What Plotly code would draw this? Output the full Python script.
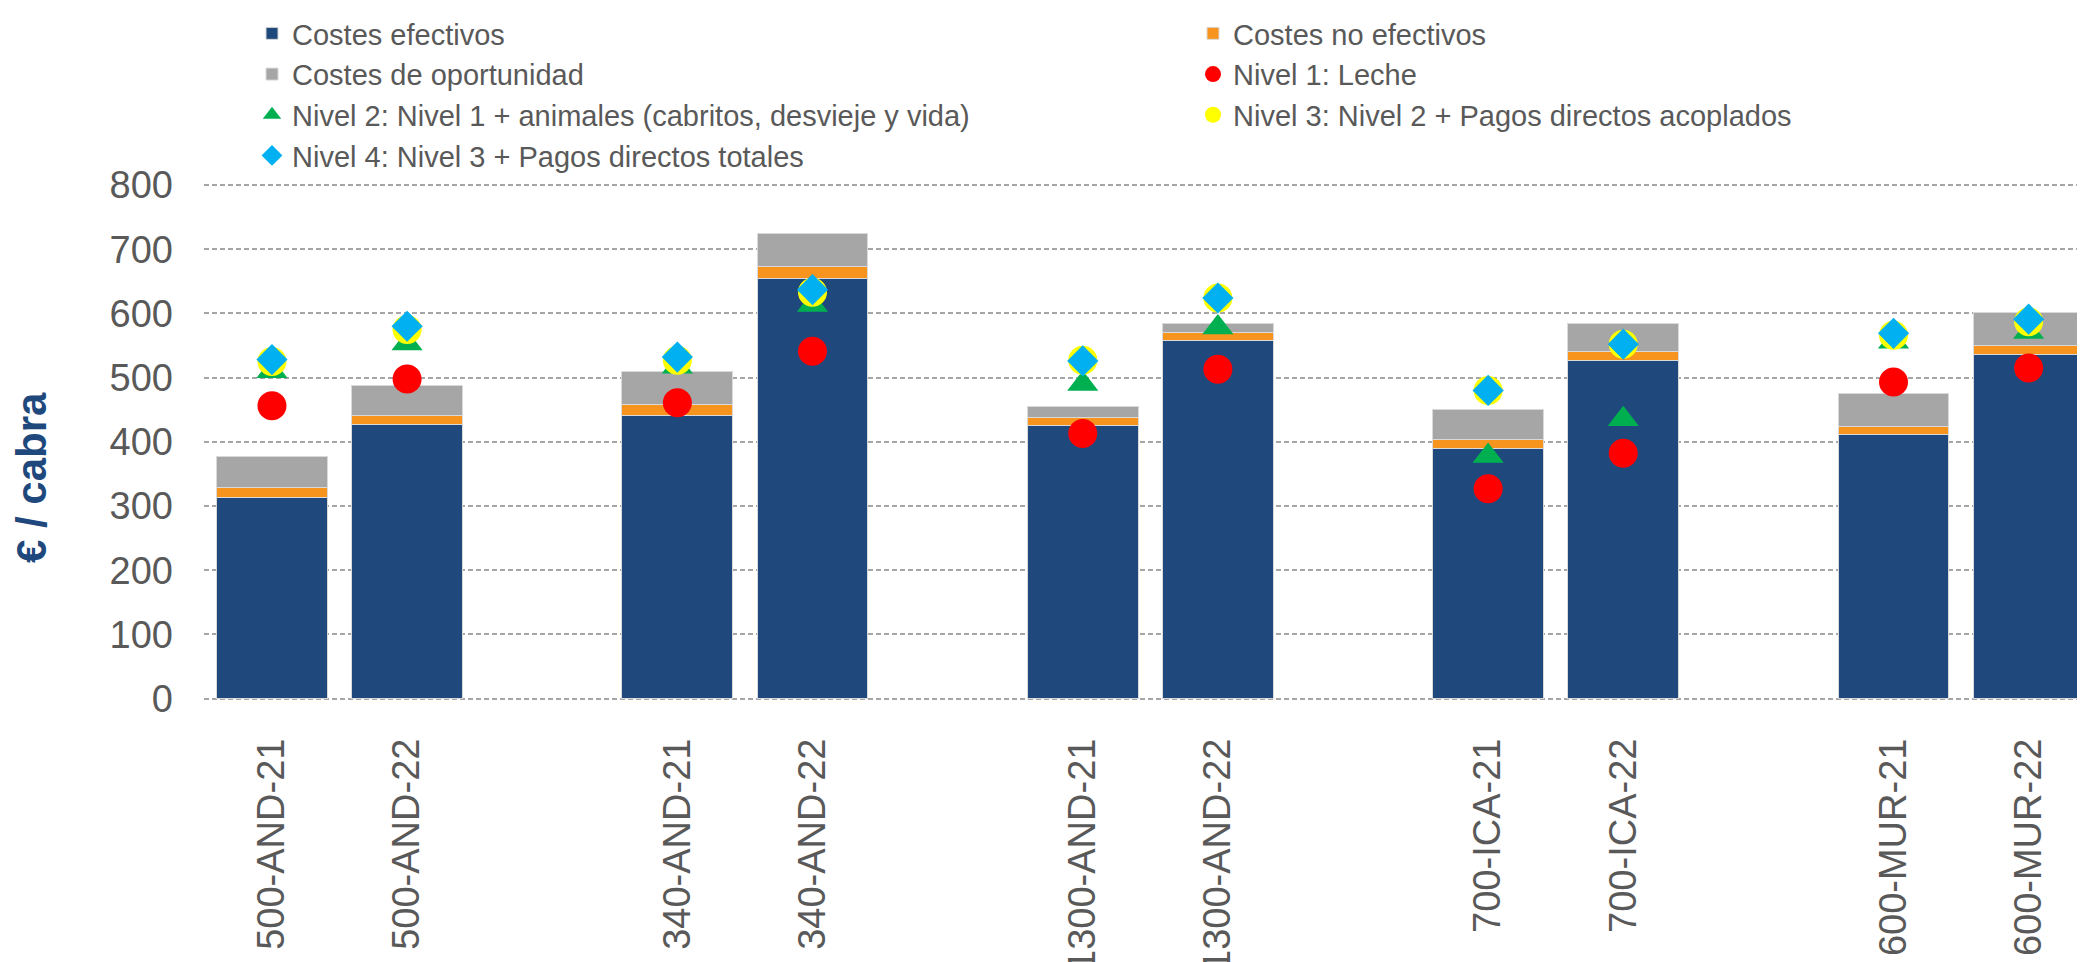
import plotly.graph_objects as go

# ---------------- data ----------------
categories = ["500-AND-21", "500-AND-22", "340-AND-21", "340-AND-22",
              "1300-AND-21", "1300-AND-22", "700-ICA-21", "700-ICA-22",
              "600-MUR-21", "600-MUR-22"]
# blank slots separating the farm groups on the category axis
category_order = ["500-AND-21", "500-AND-22", " ",
                  "340-AND-21", "340-AND-22", "  ",
                  "1300-AND-21", "1300-AND-22", "   ",
                  "700-ICA-21", "700-ICA-22", "    ",
                  "600-MUR-21", "600-MUR-22"]

costes_efectivos = [314, 427, 441, 655, 426, 558, 389, 526, 412, 536]
costes_no_efectivos = [15, 14, 17, 18, 12, 12, 15, 15, 12, 14]
costes_oportunidad = [48, 46, 52, 52, 17, 15, 46, 44, 52, 51]

nivel1 = [456, 498, 461, 541, 413, 513, 327, 382, 493, 515]
nivel2 = [510, 553, 517, 613, 490, 578, 378, 435, 556, 571]
nivel3 = [525, 575, 527, 633, 527, 624, 480, 552, 566, 587]
nivel4 = [528, 580, 532, 637, 526, 624, 480, 552, 569, 591]

y_ticks = [0, 100, 200, 300, 400, 500, 600, 700, 800]

# ---------------- style ----------------
FONT = "Liberation Sans, Arial, sans-serif"
TXT = "#595959"
# page body keeps its default 8px margin, so the figure is sized to fill the
# rest of the 2085x962 window
W, H = 2077, 954
ML, MR, MT, MB = 196, 0, 175, 261
plot_w = W - ML - MR
plot_h = H - MT - MB
OFF = 8  # body margin offset


def px_x(px):
    return (px - OFF - ML) / plot_w


def px_y(py):
    return (H - MB - (py - OFF)) / plot_h


fig = go.Figure()

bar_line = dict(color="#D9D9D9", width=1)
fig.add_trace(go.Bar(name="Costes efectivos", x=categories, y=costes_efectivos,
                     marker=dict(color="#1F497D", line=bar_line), legend="legend"))
fig.add_trace(go.Bar(name="Costes no efectivos", x=categories, y=costes_no_efectivos,
                     marker=dict(color="#F7941E", line=bar_line), legend="legend2"))
fig.add_trace(go.Bar(name="Costes de oportunidad", x=categories, y=costes_oportunidad,
                     marker=dict(color="#A6A6A6", line=bar_line), legend="legend"))

fig.add_trace(go.Scatter(name="Nivel 1: Leche", x=categories, y=nivel1, mode="markers",
                         marker=dict(symbol="circle", size=29, color="#FF0000"),
                         legend="legend2"))
fig.add_trace(go.Scatter(name="Nivel 2: Nivel 1 + animales (cabritos, desvieje y vida)",
                         x=categories, y=nivel2, mode="markers",
                         marker=dict(symbol="triangle-up", size=27, color="#00B050"),
                         legend="legend"))
fig.add_trace(go.Scatter(name="Nivel 3: Nivel 2 + Pagos directos acoplados",
                         x=categories, y=nivel3, mode="markers",
                         marker=dict(symbol="circle", size=29, color="#FFFF00"),
                         legend="legend2"))
fig.add_trace(go.Scatter(name="Nivel 4: Nivel 3 + Pagos directos totales",
                         x=categories, y=nivel4, mode="markers",
                         marker=dict(symbol="diamond", size=24, color="#00B0F0"),
                         legend="legend"))

legend_common = dict(
    orientation="v",
    xanchor="left",
    yanchor="top",
    y=px_y(OFF),
    font=dict(family=FONT, size=29, color=TXT),
    itemwidth=30,
    bgcolor="rgba(0,0,0,0)",
    traceorder="normal",
)

fig.update_layout(
    width=W, height=H,
    margin=dict(l=ML, r=MR, t=MT, b=MB, pad=0),
    barmode="stack",
    bargap=0.18,
    plot_bgcolor="white",
    paper_bgcolor="white",
    font=dict(family=FONT, color=TXT),
    legend=dict(legend_common, x=px_x(252)),
    legend2=dict(legend_common, x=px_x(1193)),
    xaxis=dict(
        type="category",
        categoryorder="array",
        categoryarray=category_order,
        range=[-0.503, 13.417],
        tickangle=-90,
        tickfont=dict(family=FONT, size=38, color=TXT),
        showgrid=False,
        showline=False,
        zeroline=False,
        ticks="",
        ticklabelstandoff=29,
        automargin=False,
    ),
    yaxis=dict(
        range=[-3.74, 803.1],
        tickvals=y_ticks,
        tickfont=dict(family=FONT, size=38, color=TXT),
        showgrid=True,
        gridcolor="#A6A6A6",
        gridwidth=2,
        griddash="5px,3px",
        zeroline=False,
        showline=False,
        ticks="",
        ticklabelstandoff=30,
        automargin=False,
    ),
    annotations=[dict(
        text="<b>€ / cabra</b>",
        xref="paper", yref="paper",
        x=px_x(31), y=px_y(478),
        xanchor="center", yanchor="middle",
        textangle=-90, showarrow=False,
        font=dict(family=FONT, size=42, color="#1F497D"),
    )],
)

fig.write_html("out.html")
